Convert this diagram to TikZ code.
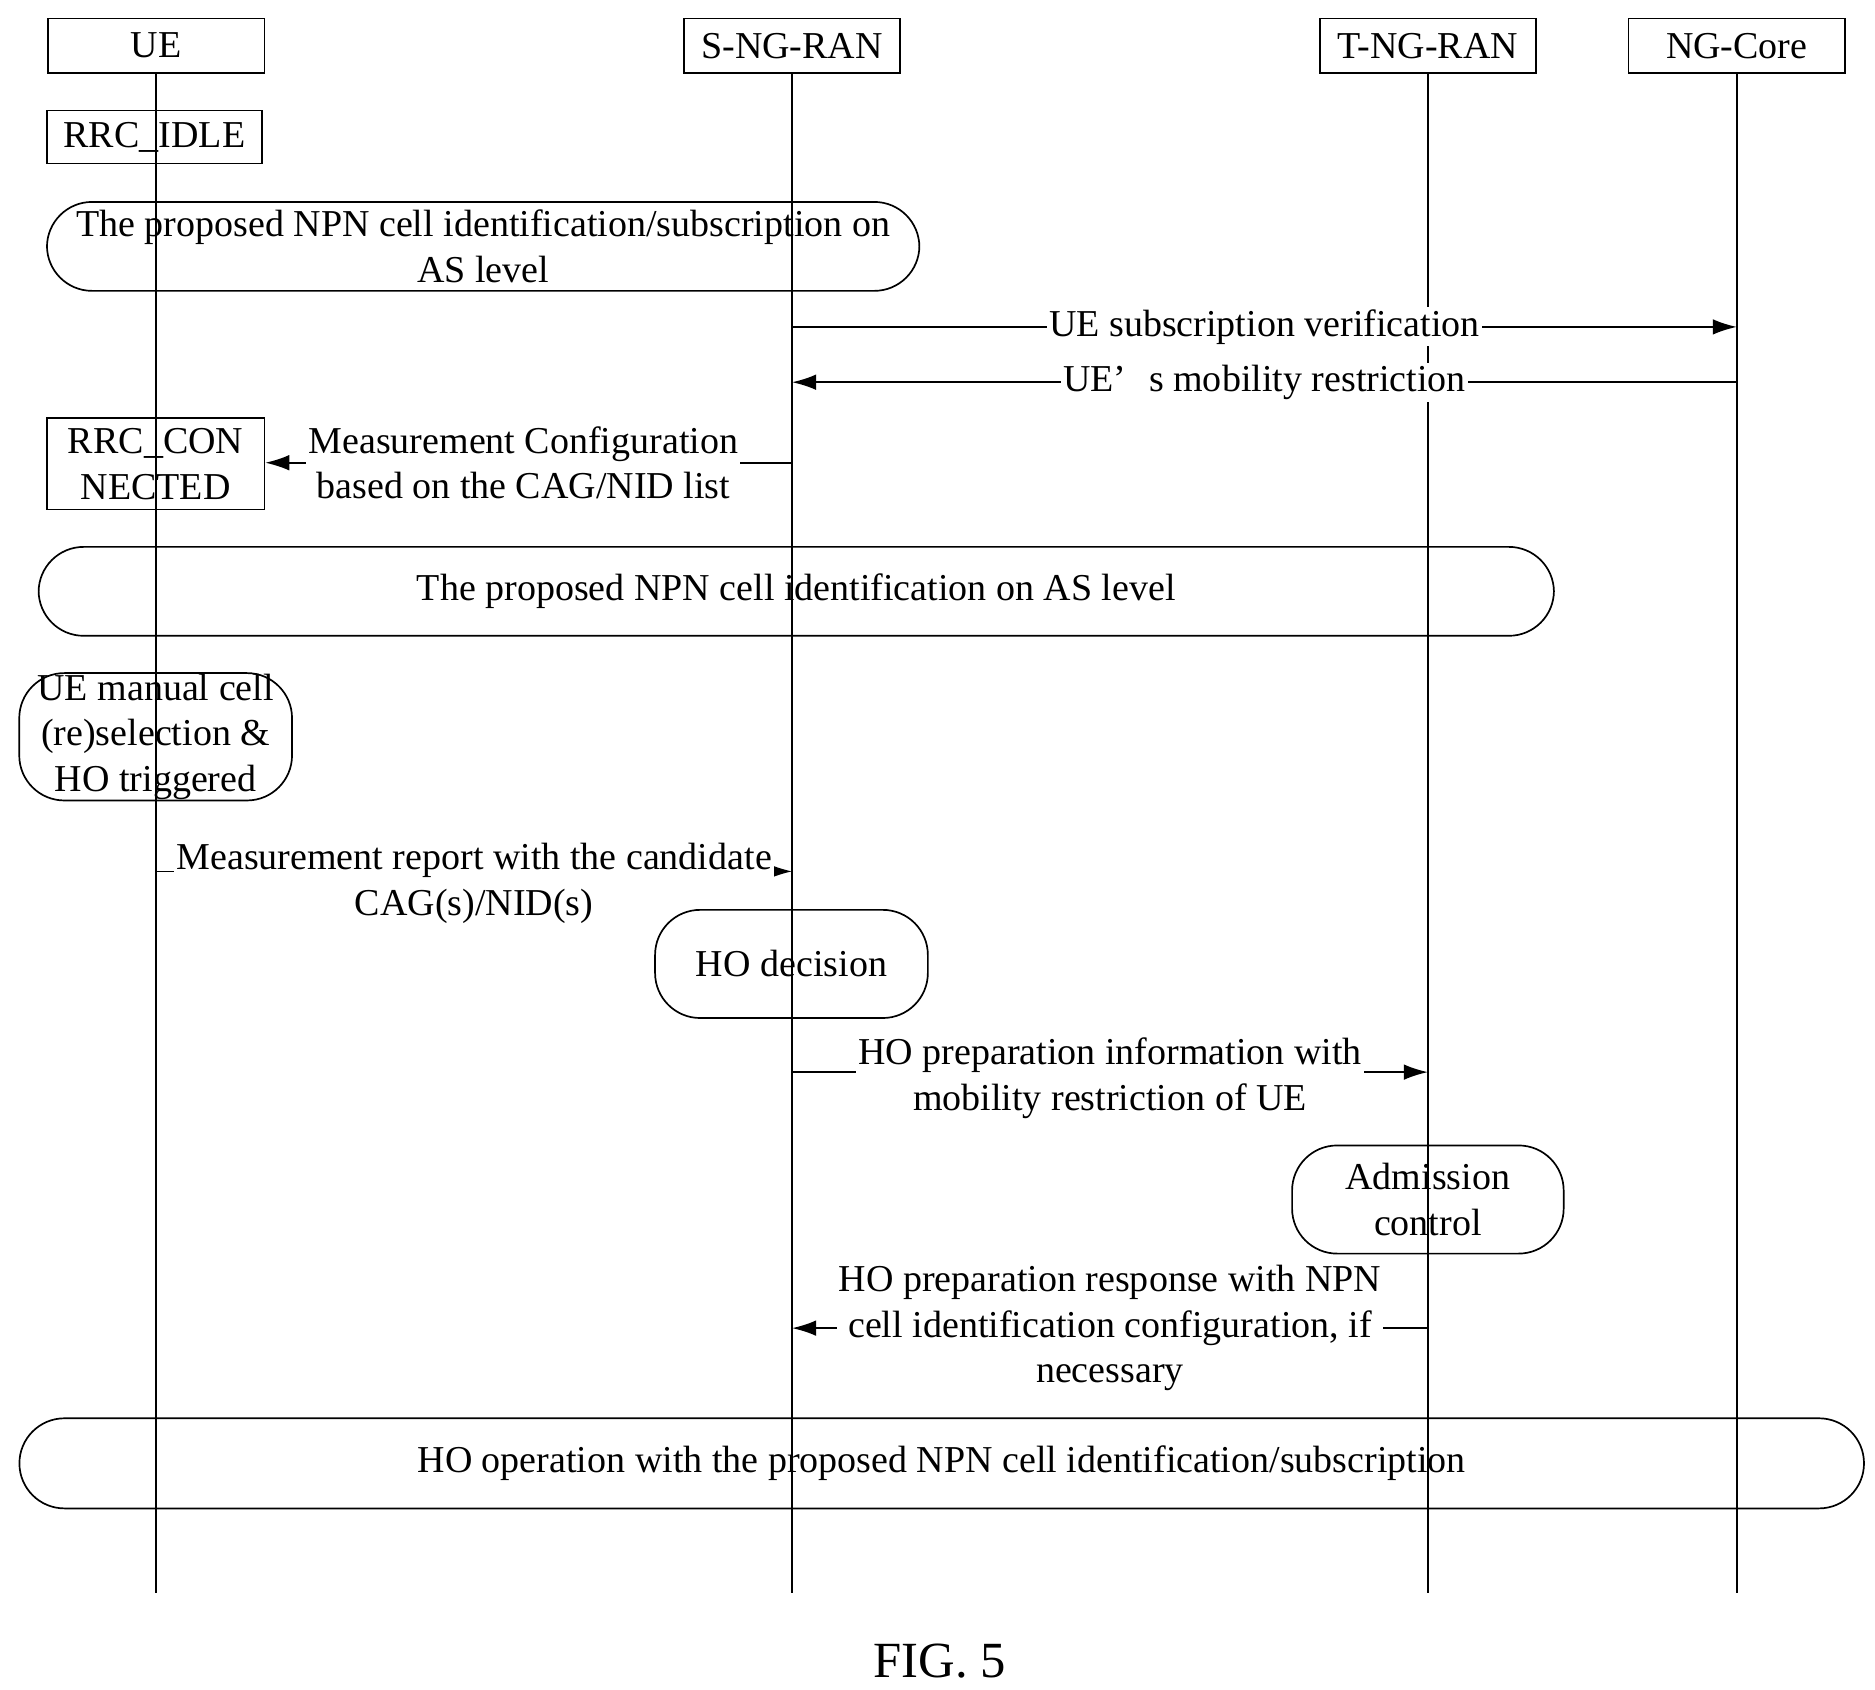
\documentclass[tikz,border=0pt]{standalone}
\usepackage{fontspec}
\setmainfont{Liberation Serif}
\usetikzlibrary{positioning,arrows.meta}
\tikzset{every node/.style={font=\fontsize{18}{21.5}\selectfont}}

\begin{document}
\begin{tikzpicture}[
  x=0.02cm, y=-0.02cm,
  entity/.style={draw, thick, minimum width=3.6cm, minimum height=0.9cm, inner sep=0pt},
  state/.style={draw, thick, inner sep=0pt, align=center},
  proc/.style={draw, thick, rounded corners=0.75cm, inner sep=0pt, align=center},
  msg/.style={-{Latex[length=4mm,width=2.6mm]}, thick},
  tag/.style={fill=white, inner sep=1pt, align=center}
]
\useasboundingbox (0,0) rectangle (1560,1406);

% Entities
\node[entity] (ue) at (130,38) {UE};
\node[entity] (sran) at (659,38) {S-NG-RAN};
\node[entity] (tran) at (1188,38) {T-NG-RAN};
\node[entity] (core) at (1445,38) {NG-Core};

% Lifelines
\foreach \n/\x in {ue/130, sran/659, tran/1188, core/1445}
  \draw[thick] (\n.south) -- (\x,1325) coordinate (\n-end);

% States and procedures
\node[state, minimum width=3.58cm, minimum height=0.88cm] (idle) at (128.5,114) {RRC\_IDLE};
\node[proc, minimum width=14.52cm, minimum height=1.48cm] (asid) at (402,205)
  {The proposed NPN cell identification/subscription on\\AS level};

% Subscription check
\coordinate (s1) at (659,272); \coordinate (c1) at (1445,272);
\draw[msg] (s1) -- node[tag] {UE subscription verification} (c1);
\coordinate (c2) at (1445,318); \coordinate (s2) at (659,318);
\draw[msg] (c2) -- node[tag] {UE’\hspace{0.6em}s mobility restriction} (s2);

% Measurement configuration
\node[state, minimum width=3.62cm, minimum height=1.52cm] (conn) at (129.5,386) {RRC\_CON\\NECTED};
\coordinate (s3) at (659,385);
\draw[msg] (s3) -- node[tag, pos=0.51] {Measurement Configuration\\based on the CAG/NID list} (conn.east |- s3);

\node[proc, minimum width=25.22cm, minimum height=1.48cm] (asid2) at (662.5,492)
  {The proposed NPN cell identification on AS level};
\node[proc, minimum width=4.54cm, minimum height=2.12cm] (manual) at (129.5,613)
  {UE manual cell\\(re)selection \&\\HO triggered};

% Measurement report
\coordinate (u4) at (130,725); \coordinate (s4) at (659,725);
\draw[msg] (u4) -- node[tag, pos=0.5, yshift=-0.2cm] {Measurement report with the candidate\\CAG(s)/NID(s)} (s4);

\node[proc, minimum width=4.54cm, minimum height=1.8cm] (hodec) at (658.5,802) {HO decision};

% Handover preparation
\coordinate (s5) at (659,892); \coordinate (t5) at (1188,892);
\draw[msg] (s5) -- node[tag, yshift=-0.1cm] {HO preparation information with\\mobility restriction of UE} (t5);

\node[proc, minimum width=4.52cm, minimum height=1.8cm] (adm) at (1188,998) {Admission\\control};

\coordinate (t6) at (1188,1105); \coordinate (s6) at (659,1105);
\draw[msg] (t6) -- node[tag] {HO preparation response with NPN\\cell identification configuration, if\\necessary} (s6);

\node[proc, minimum width=30.7cm, minimum height=1.5cm] (hoop) at (783.5,1217.5)
  {HO operation with the proposed NPN cell identification/subscription};

% Caption
\node[font=\fontsize{24}{28}\selectfont] (fig) at (782,1382) {FIG. 5};

\end{tikzpicture}
\end{document}
